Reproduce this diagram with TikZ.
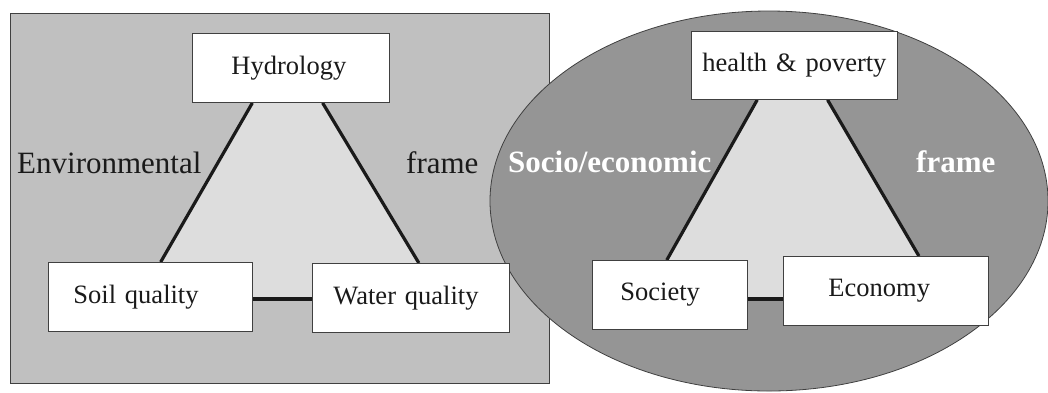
\documentclass[tikz,border=0pt]{standalone}
\usepackage{fontspec}
\setmainfont{Liberation Serif}
\usetikzlibrary{calc}
\pgfdeclarelayer{bg}
\pgfsetlayers{bg,main}
\definecolor{rectgray}{HTML}{C0C0C0}
\definecolor{ellgray}{HTML}{959595}
\definecolor{trigray}{HTML}{DDDDDD}
\definecolor{edge}{HTML}{404040}
\definecolor{ink}{HTML}{1A1A1A}
\tikzset{
  boxnode/.style={draw=edge, line width=0.9pt, fill=white, anchor=north west,
    minimum height=#1, inner ysep=0pt, text=ink,
    font=\fontsize{26.5}{30}\selectfont},
  boxnode/.default=69,
  link/.style={draw=ink, line width=3.2pt},
  tri/.style={fill=trigray},
  framestyle/.style={draw=edge, line width=0.8pt},
  biglabel/.style={anchor=base west, inner sep=0pt, font=\fontsize{31}{36}\selectfont, text=ink},
  whitelabel/.style={anchor=base west, inner sep=0pt, font=\fontsize{31}{36}\selectfont\bfseries, text=white}
}
\begin{document}
\begin{tikzpicture}[x=1pt,y=-1pt]
\useasboundingbox (0,0) rectangle (1048,392);

% boxes
\path (192,33) node[boxnode, inner xsep=39pt, text width=119pt, align=left] (hyd) {Hydrology};
\path (48,262) node[boxnode, inner xsep=25pt, text width=154pt, align=left] (soil) {Soil quality};
\path (312,263) node[boxnode, inner xsep=21pt, text width=155pt, align=left] (water) {Water quality};
\path (691,31) node[boxnode=68, inner xsep=10pt, text width=186pt, align=center] (hp) {health \& poverty};
\path (592,260) node[boxnode, inner xsep=28pt, text width=99pt, align=left] (soc) {Society};
\path (783,256) node[boxnode, inner xsep=45pt, text width=115pt, align=left] (eco) {Economy};

% connection points
\coordinate (h1) at ($(hyd.south west)!0.305!(hyd.south east)$);
\coordinate (h2) at ($(hyd.south west)!0.66!(hyd.south east)$);
\coordinate (s1) at ($(soil.north west)!0.55!(soil.north east)$);
\coordinate (w1) at ($(water.north west)!0.54!(water.north east)$);
\coordinate (sl) at (soil.east |- 0,299);
\coordinate (wl) at (water.west |- 0,299);

\coordinate (p1) at ($(hp.south west)!0.32!(hp.south east)$);
\coordinate (p2) at ($(hp.south west)!0.66!(hp.south east)$);
\coordinate (c1) at ($(soc.north west)!0.48!(soc.north east)$);
\coordinate (e1) at ($(eco.north west)!0.66!(eco.north east)$);
\coordinate (cl) at (soc.east |- 0,299);
\coordinate (el) at (eco.west |- 0,299);

\begin{pgfonlayer}{bg}
% frames
\draw[framestyle, fill=rectgray] (10,13) rectangle (549,383);
\draw[framestyle, fill=ellgray] (769,201) ellipse [x radius=279, y radius=190];
% triangle fills
\fill[tri] (h1) -- (h2) -- (w1) -- (w1 |- wl) -- (s1 |- sl) -- (s1) -- cycle;
\fill[tri] (p1) -- (p2) -- (e1) -- (e1 |- el) -- (c1 |- cl) -- (c1) -- cycle;
% links
\draw[link] (h1) -- (s1);
\draw[link] (h2) -- (w1);
\draw[link] (sl) -- (wl);
\draw[link] (p1) -- (c1);
\draw[link] (p2) -- (e1);
\draw[link] (cl) -- (el);
\end{pgfonlayer}

% labels
\node[biglabel] (envlab) at (17,173) {Environmental};
\node[biglabel] (framel) at (406,173) {frame};
\node[whitelabel] (soclab) at (508,172) {Socio/economic};
\node[whitelabel] (framer) at (916,172) {frame};
\end{tikzpicture}
\end{document}
